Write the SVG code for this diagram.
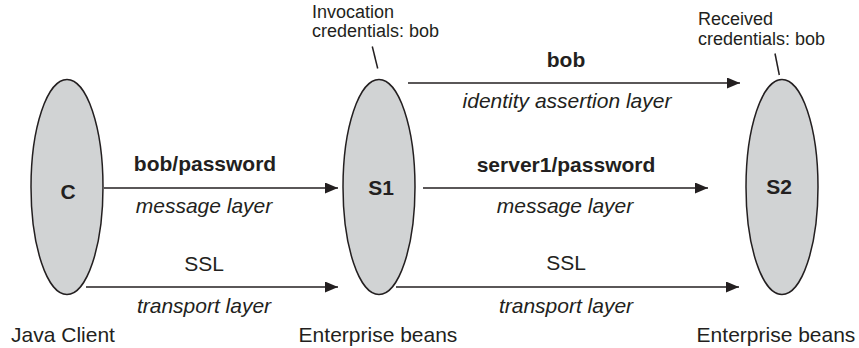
<svg xmlns="http://www.w3.org/2000/svg" width="859" height="348" viewBox="0 0 859 348">
<style>
text{font-family:"Liberation Sans",Arial,Helvetica,sans-serif;fill:#231f20}
.n{fill:#d1d3d4;stroke:#231f20;stroke-width:1.5}
.lbl{font-size:21px;font-weight:bold;text-anchor:middle}
.b{font-size:21px;font-weight:bold;text-anchor:middle}
.i{font-size:21px;font-style:italic;text-anchor:middle}
.r{font-size:21px;text-anchor:middle}
.s{font-size:18px}
.c{stroke:#231f20;stroke-width:1.5;fill:none}
</style>
<defs>
<marker id="ah" viewBox="0 0 10 10" refX="10" refY="5" markerWidth="13" markerHeight="11" markerUnits="userSpaceOnUse" orient="auto" preserveAspectRatio="none">
<path d="M0,0 L10,5 L0,10 Z" fill="#231f20"/>
</marker>
</defs>
<rect width="859" height="348" fill="#ffffff"/>
<g id="nodeC">
<ellipse class="n" cx="67" cy="187" rx="36" ry="107.5"/>
<text class="lbl" x="68" y="199">C</text>
<text class="r" x="63" y="342">Java Client</text>
</g>
<g id="nodeS1">
<ellipse class="n" cx="379" cy="187" rx="36" ry="107.5"/>
<text class="lbl" x="381" y="195">S1</text>
<text class="r" x="378" y="342">Enterprise beans</text>
<text class="s" x="312" y="18">Invocation</text>
<text class="s" x="312" y="37">credentials: bob</text>
</g>
<g id="nodeS2">
<ellipse class="n" cx="782" cy="187" rx="36" ry="107.5"/>
<text class="lbl" x="779" y="194">S2</text>
<text class="r" x="776" y="342">Enterprise beans</text>
<text class="s" x="698" y="25">Received</text>
<text class="s" x="698" y="45">credentials: bob</text>
</g>
<g id="connectors">
<line class="c" x1="104" y1="188" x2="338" y2="188" marker-end="url(#ah)"/>
<line class="c" x1="86" y1="287" x2="338" y2="287" marker-end="url(#ah)"/>
<line class="c" x1="408" y1="83" x2="740" y2="83" marker-end="url(#ah)"/>
<line class="c" x1="423" y1="188" x2="708" y2="188" marker-end="url(#ah)"/>
<line class="c" x1="396" y1="287" x2="739" y2="287" marker-end="url(#ah)"/>
<line class="c" x1="372.3" y1="46.5" x2="377.7" y2="68.5"/>
<line class="c" x1="775" y1="53.5" x2="779.3" y2="75"/>
</g>
<g id="labels">
<text class="b" x="205" y="171">bob/password</text>
<text class="i" x="204" y="213">message layer</text>
<text class="r" x="204" y="271">SSL</text>
<text class="i" x="204" y="313">transport layer</text>
<text class="b" x="566" y="67">bob</text>
<text class="i" x="567" y="108">identity assertion layer</text>
<text class="b" x="566" y="172">server1/password</text>
<text class="i" x="565" y="213">message layer</text>
<text class="r" x="566" y="270">SSL</text>
<text class="i" x="566" y="313">transport layer</text>
</g>
</svg>
